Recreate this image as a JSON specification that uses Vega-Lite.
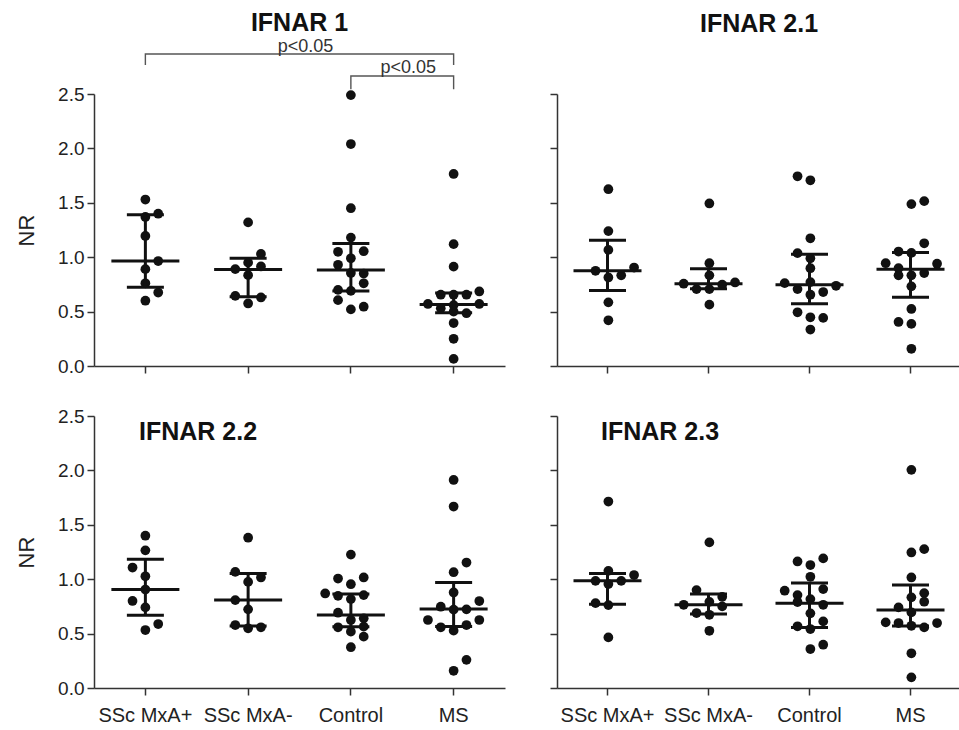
{
  "$schema": "https://vega.github.io/schema/vega-lite/v6.json",
  "padding": {"left": 15, "top": 10, "right": 0, "bottom": 0},
  "background": "white",
  "datasets": {
    "pts": [
      {"p":"IFNAR 1","g":"SSc MxA+","v":1.53,"s":0},{"p":"IFNAR 1","g":"SSc MxA+","v":1.37,"s":0},{"p":"IFNAR 1","g":"SSc MxA+","v":1.40,"s":1},{"p":"IFNAR 1","g":"SSc MxA+","v":1.195,"s":0},{"p":"IFNAR 1","g":"SSc MxA+","v":0.965,"s":1},{"p":"IFNAR 1","g":"SSc MxA+","v":0.89,"s":0},{"p":"IFNAR 1","g":"SSc MxA+","v":0.76,"s":0},{"p":"IFNAR 1","g":"SSc MxA+","v":0.675,"s":1},{"p":"IFNAR 1","g":"SSc MxA+","v":0.60,"s":0},
      {"p":"IFNAR 1","g":"SSc MxA-","v":1.32,"s":0},{"p":"IFNAR 1","g":"SSc MxA-","v":1.03,"s":1},{"p":"IFNAR 1","g":"SSc MxA-","v":0.95,"s":0},{"p":"IFNAR 1","g":"SSc MxA-","v":0.89,"s":-1},{"p":"IFNAR 1","g":"SSc MxA-","v":0.915,"s":1},{"p":"IFNAR 1","g":"SSc MxA-","v":0.835,"s":0},{"p":"IFNAR 1","g":"SSc MxA-","v":0.645,"s":-1},{"p":"IFNAR 1","g":"SSc MxA-","v":0.63,"s":1},{"p":"IFNAR 1","g":"SSc MxA-","v":0.575,"s":0},
      {"p":"IFNAR 1","g":"Control","v":2.49,"s":0},{"p":"IFNAR 1","g":"Control","v":2.04,"s":0},{"p":"IFNAR 1","g":"Control","v":1.45,"s":0},{"p":"IFNAR 1","g":"Control","v":1.18,"s":0},{"p":"IFNAR 1","g":"Control","v":1.05,"s":-1},{"p":"IFNAR 1","g":"Control","v":1.055,"s":1},{"p":"IFNAR 1","g":"Control","v":0.99,"s":0},{"p":"IFNAR 1","g":"Control","v":0.93,"s":-1},{"p":"IFNAR 1","g":"Control","v":0.855,"s":0},{"p":"IFNAR 1","g":"Control","v":0.85,"s":1},{"p":"IFNAR 1","g":"Control","v":0.76,"s":1},{"p":"IFNAR 1","g":"Control","v":0.70,"s":-1},{"p":"IFNAR 1","g":"Control","v":0.69,"s":0},{"p":"IFNAR 1","g":"Control","v":0.605,"s":-1},{"p":"IFNAR 1","g":"Control","v":0.52,"s":0},{"p":"IFNAR 1","g":"Control","v":0.545,"s":1},
      {"p":"IFNAR 1","g":"MS","v":1.765,"s":0},{"p":"IFNAR 1","g":"MS","v":1.12,"s":0},{"p":"IFNAR 1","g":"MS","v":0.913,"s":0},{"p":"IFNAR 1","g":"MS","v":0.685,"s":2},{"p":"IFNAR 1","g":"MS","v":0.655,"s":-1},{"p":"IFNAR 1","g":"MS","v":0.655,"s":0},{"p":"IFNAR 1","g":"MS","v":0.655,"s":1},{"p":"IFNAR 1","g":"MS","v":0.57,"s":-2},{"p":"IFNAR 1","g":"MS","v":0.57,"s":2},{"p":"IFNAR 1","g":"MS","v":0.56,"s":0},{"p":"IFNAR 1","g":"MS","v":0.53,"s":-1},{"p":"IFNAR 1","g":"MS","v":0.50,"s":0},{"p":"IFNAR 1","g":"MS","v":0.485,"s":1},{"p":"IFNAR 1","g":"MS","v":0.395,"s":0},{"p":"IFNAR 1","g":"MS","v":0.25,"s":0},{"p":"IFNAR 1","g":"MS","v":0.065,"s":0},

      {"p":"IFNAR 2.1","g":"SSc MxA+","v":1.625,"s":0},{"p":"IFNAR 2.1","g":"SSc MxA+","v":1.24,"s":0},{"p":"IFNAR 2.1","g":"SSc MxA+","v":1.067,"s":0},{"p":"IFNAR 2.1","g":"SSc MxA+","v":0.875,"s":-1},{"p":"IFNAR 2.1","g":"SSc MxA+","v":0.905,"s":2},{"p":"IFNAR 2.1","g":"SSc MxA+","v":0.833,"s":1},{"p":"IFNAR 2.1","g":"SSc MxA+","v":0.814,"s":0},{"p":"IFNAR 2.1","g":"SSc MxA+","v":0.585,"s":0},{"p":"IFNAR 2.1","g":"SSc MxA+","v":0.42,"s":0},
      {"p":"IFNAR 2.1","g":"SSc MxA-","v":1.494,"s":0},{"p":"IFNAR 2.1","g":"SSc MxA-","v":0.945,"s":0},{"p":"IFNAR 2.1","g":"SSc MxA-","v":0.833,"s":0},{"p":"IFNAR 2.1","g":"SSc MxA-","v":0.756,"s":-2},{"p":"IFNAR 2.1","g":"SSc MxA-","v":0.707,"s":-1},{"p":"IFNAR 2.1","g":"SSc MxA-","v":0.707,"s":0},{"p":"IFNAR 2.1","g":"SSc MxA-","v":0.747,"s":1},{"p":"IFNAR 2.1","g":"SSc MxA-","v":0.768,"s":2},{"p":"IFNAR 2.1","g":"SSc MxA-","v":0.564,"s":0},
      {"p":"IFNAR 2.1","g":"Control","v":1.744,"s":-1},{"p":"IFNAR 2.1","g":"Control","v":1.707,"s":0},{"p":"IFNAR 2.1","g":"Control","v":1.174,"s":0},{"p":"IFNAR 2.1","g":"Control","v":1.037,"s":-1},{"p":"IFNAR 2.1","g":"Control","v":0.99,"s":0},{"p":"IFNAR 2.1","g":"Control","v":0.899,"s":0},{"p":"IFNAR 2.1","g":"Control","v":0.762,"s":-2},{"p":"IFNAR 2.1","g":"Control","v":0.771,"s":0},{"p":"IFNAR 2.1","g":"Control","v":0.707,"s":-1},{"p":"IFNAR 2.1","g":"Control","v":0.737,"s":2},{"p":"IFNAR 2.1","g":"Control","v":0.655,"s":0},{"p":"IFNAR 2.1","g":"Control","v":0.68,"s":1},{"p":"IFNAR 2.1","g":"Control","v":0.494,"s":-1},{"p":"IFNAR 2.1","g":"Control","v":0.448,"s":0},{"p":"IFNAR 2.1","g":"Control","v":0.442,"s":1},{"p":"IFNAR 2.1","g":"Control","v":0.335,"s":0},
      {"p":"IFNAR 2.1","g":"MS","v":1.488,"s":0},{"p":"IFNAR 2.1","g":"MS","v":1.515,"s":1},{"p":"IFNAR 2.1","g":"MS","v":1.128,"s":1},{"p":"IFNAR 2.1","g":"MS","v":1.052,"s":-1},{"p":"IFNAR 2.1","g":"MS","v":1.04,"s":0},{"p":"IFNAR 2.1","g":"MS","v":0.945,"s":-2},{"p":"IFNAR 2.1","g":"MS","v":0.94,"s":2},{"p":"IFNAR 2.1","g":"MS","v":0.899,"s":-1},{"p":"IFNAR 2.1","g":"MS","v":0.833,"s":-1},{"p":"IFNAR 2.1","g":"MS","v":0.833,"s":0},{"p":"IFNAR 2.1","g":"MS","v":0.854,"s":1},{"p":"IFNAR 2.1","g":"MS","v":0.732,"s":0},{"p":"IFNAR 2.1","g":"MS","v":0.524,"s":0},{"p":"IFNAR 2.1","g":"MS","v":0.405,"s":-1},{"p":"IFNAR 2.1","g":"MS","v":0.387,"s":0},{"p":"IFNAR 2.1","g":"MS","v":0.158,"s":0},

      {"p":"IFNAR 2.2","g":"SSc MxA+","v":1.40,"s":0},{"p":"IFNAR 2.2","g":"SSc MxA+","v":1.265,"s":0},{"p":"IFNAR 2.2","g":"SSc MxA+","v":1.107,"s":-1},{"p":"IFNAR 2.2","g":"SSc MxA+","v":1.027,"s":0},{"p":"IFNAR 2.2","g":"SSc MxA+","v":0.905,"s":0},{"p":"IFNAR 2.2","g":"SSc MxA+","v":0.80,"s":-1},{"p":"IFNAR 2.2","g":"SSc MxA+","v":0.741,"s":0},{"p":"IFNAR 2.2","g":"SSc MxA+","v":0.588,"s":1},{"p":"IFNAR 2.2","g":"SSc MxA+","v":0.533,"s":0},
      {"p":"IFNAR 2.2","g":"SSc MxA-","v":1.381,"s":0},{"p":"IFNAR 2.2","g":"SSc MxA-","v":1.067,"s":-1},{"p":"IFNAR 2.2","g":"SSc MxA-","v":1.016,"s":1},{"p":"IFNAR 2.2","g":"SSc MxA-","v":0.975,"s":0},{"p":"IFNAR 2.2","g":"SSc MxA-","v":0.808,"s":-1},{"p":"IFNAR 2.2","g":"SSc MxA-","v":0.723,"s":0},{"p":"IFNAR 2.2","g":"SSc MxA-","v":0.579,"s":-1},{"p":"IFNAR 2.2","g":"SSc MxA-","v":0.549,"s":0},{"p":"IFNAR 2.2","g":"SSc MxA-","v":0.558,"s":1},
      {"p":"IFNAR 2.2","g":"Control","v":1.226,"s":0},{"p":"IFNAR 2.2","g":"Control","v":1.006,"s":-1},{"p":"IFNAR 2.2","g":"Control","v":1.016,"s":1},{"p":"IFNAR 2.2","g":"Control","v":0.954,"s":0},{"p":"IFNAR 2.2","g":"Control","v":0.869,"s":-2},{"p":"IFNAR 2.2","g":"Control","v":0.847,"s":-1},{"p":"IFNAR 2.2","g":"Control","v":0.854,"s":1},{"p":"IFNAR 2.2","g":"Control","v":0.817,"s":0},{"p":"IFNAR 2.2","g":"Control","v":0.692,"s":-1},{"p":"IFNAR 2.2","g":"Control","v":0.625,"s":0},{"p":"IFNAR 2.2","g":"Control","v":0.64,"s":1},{"p":"IFNAR 2.2","g":"Control","v":0.558,"s":-1},{"p":"IFNAR 2.2","g":"Control","v":0.518,"s":0},{"p":"IFNAR 2.2","g":"Control","v":0.564,"s":1},{"p":"IFNAR 2.2","g":"Control","v":0.472,"s":1},{"p":"IFNAR 2.2","g":"Control","v":0.375,"s":0},
      {"p":"IFNAR 2.2","g":"MS","v":1.912,"s":0},{"p":"IFNAR 2.2","g":"MS","v":1.668,"s":0},{"p":"IFNAR 2.2","g":"MS","v":1.153,"s":1},{"p":"IFNAR 2.2","g":"MS","v":1.064,"s":0},{"p":"IFNAR 2.2","g":"MS","v":0.878,"s":0},{"p":"IFNAR 2.2","g":"MS","v":0.799,"s":2},{"p":"IFNAR 2.2","g":"MS","v":0.747,"s":-1},{"p":"IFNAR 2.2","g":"MS","v":0.72,"s":0},{"p":"IFNAR 2.2","g":"MS","v":0.723,"s":1},{"p":"IFNAR 2.2","g":"MS","v":0.625,"s":-2},{"p":"IFNAR 2.2","g":"MS","v":0.625,"s":2},{"p":"IFNAR 2.2","g":"MS","v":0.558,"s":-1},{"p":"IFNAR 2.2","g":"MS","v":0.527,"s":0},{"p":"IFNAR 2.2","g":"MS","v":0.579,"s":1},{"p":"IFNAR 2.2","g":"MS","v":0.259,"s":1},{"p":"IFNAR 2.2","g":"MS","v":0.158,"s":0},

      {"p":"IFNAR 2.3","g":"SSc MxA+","v":1.714,"s":0},{"p":"IFNAR 2.3","g":"SSc MxA+","v":1.077,"s":0},{"p":"IFNAR 2.3","g":"SSc MxA+","v":0.985,"s":-1},{"p":"IFNAR 2.3","g":"SSc MxA+","v":0.955,"s":0},{"p":"IFNAR 2.3","g":"SSc MxA+","v":0.985,"s":1},{"p":"IFNAR 2.3","g":"SSc MxA+","v":1.038,"s":2},{"p":"IFNAR 2.3","g":"SSc MxA+","v":0.78,"s":-1},{"p":"IFNAR 2.3","g":"SSc MxA+","v":0.762,"s":0},{"p":"IFNAR 2.3","g":"SSc MxA+","v":0.465,"s":0},
      {"p":"IFNAR 2.3","g":"SSc MxA-","v":1.338,"s":0},{"p":"IFNAR 2.3","g":"SSc MxA-","v":0.90,"s":-1},{"p":"IFNAR 2.3","g":"SSc MxA-","v":0.838,"s":1},{"p":"IFNAR 2.3","g":"SSc MxA-","v":0.792,"s":0},{"p":"IFNAR 2.3","g":"SSc MxA-","v":0.765,"s":-2},{"p":"IFNAR 2.3","g":"SSc MxA-","v":0.75,"s":1},{"p":"IFNAR 2.3","g":"SSc MxA-","v":0.689,"s":-1},{"p":"IFNAR 2.3","g":"SSc MxA-","v":0.673,"s":0},{"p":"IFNAR 2.3","g":"SSc MxA-","v":0.526,"s":0},
      {"p":"IFNAR 2.3","g":"Control","v":1.163,"s":-1},{"p":"IFNAR 2.3","g":"Control","v":1.13,"s":0},{"p":"IFNAR 2.3","g":"Control","v":1.191,"s":1},{"p":"IFNAR 2.3","g":"Control","v":1.022,"s":0},{"p":"IFNAR 2.3","g":"Control","v":0.894,"s":-2},{"p":"IFNAR 2.3","g":"Control","v":0.909,"s":1},{"p":"IFNAR 2.3","g":"Control","v":0.854,"s":-1},{"p":"IFNAR 2.3","g":"Control","v":0.817,"s":0},{"p":"IFNAR 2.3","g":"Control","v":0.79,"s":-1},{"p":"IFNAR 2.3","g":"Control","v":0.765,"s":1},{"p":"IFNAR 2.3","g":"Control","v":0.686,"s":0},{"p":"IFNAR 2.3","g":"Control","v":0.612,"s":1},{"p":"IFNAR 2.3","g":"Control","v":0.567,"s":-1},{"p":"IFNAR 2.3","g":"Control","v":0.542,"s":0},{"p":"IFNAR 2.3","g":"Control","v":0.358,"s":0},{"p":"IFNAR 2.3","g":"Control","v":0.398,"s":1},
      {"p":"IFNAR 2.3","g":"MS","v":2.005,"s":0},{"p":"IFNAR 2.3","g":"MS","v":1.246,"s":0},{"p":"IFNAR 2.3","g":"MS","v":1.276,"s":1},{"p":"IFNAR 2.3","g":"MS","v":1.016,"s":0},{"p":"IFNAR 2.3","g":"MS","v":0.872,"s":1},{"p":"IFNAR 2.3","g":"MS","v":0.833,"s":0},{"p":"IFNAR 2.3","g":"MS","v":0.793,"s":1},{"p":"IFNAR 2.3","g":"MS","v":0.741,"s":-1},{"p":"IFNAR 2.3","g":"MS","v":0.695,"s":0},{"p":"IFNAR 2.3","g":"MS","v":0.603,"s":-2},{"p":"IFNAR 2.3","g":"MS","v":0.597,"s":-1},{"p":"IFNAR 2.3","g":"MS","v":0.572,"s":0},{"p":"IFNAR 2.3","g":"MS","v":0.557,"s":1},{"p":"IFNAR 2.3","g":"MS","v":0.597,"s":2},{"p":"IFNAR 2.3","g":"MS","v":0.319,"s":0},{"p":"IFNAR 2.3","g":"MS","v":0.098,"s":0}
    ],
    "st": [
      {"p":"IFNAR 1","g":"SSc MxA+","med":0.965,"q1":0.723,"q3":1.39},
      {"p":"IFNAR 1","g":"SSc MxA-","med":0.888,"q1":0.637,"q3":0.99},
      {"p":"IFNAR 1","g":"Control","med":0.882,"q1":0.69,"q3":1.127},
      {"p":"IFNAR 1","g":"MS","med":0.565,"q1":0.49,"q3":0.672},
      {"p":"IFNAR 2.1","g":"SSc MxA+","med":0.875,"q1":0.695,"q3":1.155},
      {"p":"IFNAR 2.1","g":"SSc MxA-","med":0.756,"q1":0.71,"q3":0.893},
      {"p":"IFNAR 2.1","g":"Control","med":0.747,"q1":0.573,"q3":1.027},
      {"p":"IFNAR 2.1","g":"MS","med":0.89,"q1":0.631,"q3":1.043},
      {"p":"IFNAR 2.2","g":"SSc MxA+","med":0.905,"q1":0.668,"q3":1.183},
      {"p":"IFNAR 2.2","g":"SSc MxA-","med":0.808,"q1":0.57,"q3":1.052},
      {"p":"IFNAR 2.2","g":"Control","med":0.671,"q1":0.564,"q3":0.863},
      {"p":"IFNAR 2.2","g":"MS","med":0.725,"q1":0.565,"q3":0.97},
      {"p":"IFNAR 2.3","g":"SSc MxA+","med":0.985,"q1":0.77,"q3":1.053},
      {"p":"IFNAR 2.3","g":"SSc MxA-","med":0.765,"q1":0.68,"q3":0.863},
      {"p":"IFNAR 2.3","g":"Control","med":0.78,"q1":0.557,"q3":0.964},
      {"p":"IFNAR 2.3","g":"MS","med":0.716,"q1":0.57,"q3":0.946}
    ],
    "brk": [
      {"b":1,"g":"SSc MxA+","v":2.767,"o":1},{"b":1,"g":"SSc MxA+","v":2.868,"o":2},{"b":1,"g":"MS","v":2.868,"o":3},{"b":1,"g":"MS","v":2.767,"o":4},
      {"b":2,"g":"Control","v":2.543,"o":1},{"b":2,"g":"Control","v":2.665,"o":2},{"b":2,"g":"MS","v":2.665,"o":3},{"b":2,"g":"MS","v":2.543,"o":4}
    ],
    "brt": [
      {"t":"p<0.05","g":"SSc MxA-","v":2.89},
      {"t":"p<0.05","g":"Control","v":2.696}
    ]
  },
  "columns": 2,
  "bounds": "flush",
  "spacing": {"row": 50, "column": 52},
  "concat": [
    {
      "width": 411, "height": 272,
      "title": {"text": "IFNAR 1", "anchor": "middle", "offset": 2},
      "encoding": {"x": {"field": "g", "type": "nominal", "scale": {"domain": ["SSc MxA+","SSc MxA-","Control","MS"], "paddingInner": 0, "paddingOuter": 0}, "axis": {"labels": false, "title": null}}},
      "layer": [
        {"data": {"name": "pts"}, "transform": [{"filter": "datum.p === 'IFNAR 1'"}], "mark": {"type": "circle", "size": 95, "color": "#111", "opacity": 1},
         "encoding": {"xOffset": {"field": "s", "type": "nominal", "scale": {"domain": [-4,-3,-2,-1,0,1,2,3,4], "paddingInner": 0, "paddingOuter": 0}},
                      "y": {"field": "v", "type": "quantitative", "title": "NR", "scale": {"domain": [0, 2.5], "nice": false, "zero": false}, "axis": {"values": [0,0.5,1,1.5,2,2.5], "format": ".1f"}}}},
        {"data": {"name": "st"}, "transform": [{"filter": "datum.p === 'IFNAR 1'"}], "mark": {"type": "tick", "orient": "horizontal", "size": 68, "thickness": 3, "color": "#111", "opacity": 1},
         "encoding": {"y": {"field": "med", "type": "quantitative", "title": "NR", "scale": {"domain": [0, 2.5], "nice": false, "zero": false}}}},
        {"data": {"name": "st"}, "transform": [{"filter": "datum.p === 'IFNAR 1'"}], "mark": {"type": "tick", "orient": "horizontal", "size": 37, "thickness": 3, "color": "#111", "opacity": 1},
         "encoding": {"y": {"field": "q1", "type": "quantitative", "title": "NR", "scale": {"domain": [0, 2.5], "nice": false, "zero": false}}}},
        {"data": {"name": "st"}, "transform": [{"filter": "datum.p === 'IFNAR 1'"}], "mark": {"type": "tick", "orient": "horizontal", "size": 37, "thickness": 3, "color": "#111", "opacity": 1},
         "encoding": {"y": {"field": "q3", "type": "quantitative", "title": "NR", "scale": {"domain": [0, 2.5], "nice": false, "zero": false}}}},
        {"data": {"name": "st"}, "transform": [{"filter": "datum.p === 'IFNAR 1'"}], "mark": {"type": "rule", "strokeWidth": 3, "color": "#111"},
         "encoding": {"y": {"field": "q1", "type": "quantitative", "title": "NR", "scale": {"domain": [0, 2.5], "nice": false, "zero": false}}, "y2": {"field": "q3"}}},
        {"data": {"name": "brk"}, "mark": {"type": "line", "color": "#555", "strokeWidth": 1.4, "interpolate": "linear"},
         "encoding": {"y": {"field": "v", "type": "quantitative", "title": "NR", "scale": {"domain": [0, 2.5], "nice": false, "zero": false}}, "detail": {"field": "b"}, "order": {"field": "o"}}},
        {"data": {"name": "brt"}, "mark": {"type": "text", "fontSize": 18, "color": "#333", "baseline": "alphabetic", "align": "center", "dx": 6, "font": "Liberation Sans"},
         "encoding": {"x": {"field": "g", "type": "nominal", "bandPosition": 1}, "y": {"field": "v", "type": "quantitative", "title": "NR", "scale": {"domain": [0, 2.5], "nice": false, "zero": false}}, "text": {"field": "t"}}}
      ]
    },
    {
      "width": 404, "height": 272,
      "title": {"text": "IFNAR 2.1", "anchor": "middle", "offset": 56},
      "encoding": {"x": {"field": "g", "type": "nominal", "scale": {"domain": ["SSc MxA+","SSc MxA-","Control","MS"], "paddingInner": 0, "paddingOuter": 0}, "axis": {"labels": false, "title": null}}},
      "layer": [
        {"data": {"name": "pts"}, "transform": [{"filter": "datum.p === 'IFNAR 2.1'"}], "mark": {"type": "circle", "size": 95, "color": "#111", "opacity": 1},
         "encoding": {"xOffset": {"field": "s", "type": "nominal", "scale": {"domain": [-4,-3,-2,-1,0,1,2,3,4], "paddingInner": 0, "paddingOuter": 0}},
                      "y": {"field": "v", "type": "quantitative", "title": null, "scale": {"domain": [0, 2.5], "nice": false, "zero": false}, "axis": {"values": [0,0.5,1,1.5,2,2.5], "labels": false}}}},
        {"data": {"name": "st"}, "transform": [{"filter": "datum.p === 'IFNAR 2.1'"}], "mark": {"type": "tick", "orient": "horizontal", "size": 68, "thickness": 3, "color": "#111", "opacity": 1},
         "encoding": {"y": {"field": "med", "type": "quantitative", "title": null, "scale": {"domain": [0, 2.5], "nice": false, "zero": false}}}},
        {"data": {"name": "st"}, "transform": [{"filter": "datum.p === 'IFNAR 2.1'"}], "mark": {"type": "tick", "orient": "horizontal", "size": 37, "thickness": 3, "color": "#111", "opacity": 1},
         "encoding": {"y": {"field": "q1", "type": "quantitative", "title": null, "scale": {"domain": [0, 2.5], "nice": false, "zero": false}}}},
        {"data": {"name": "st"}, "transform": [{"filter": "datum.p === 'IFNAR 2.1'"}], "mark": {"type": "tick", "orient": "horizontal", "size": 37, "thickness": 3, "color": "#111", "opacity": 1},
         "encoding": {"y": {"field": "q3", "type": "quantitative", "title": null, "scale": {"domain": [0, 2.5], "nice": false, "zero": false}}}},
        {"data": {"name": "st"}, "transform": [{"filter": "datum.p === 'IFNAR 2.1'"}], "mark": {"type": "rule", "strokeWidth": 3, "color": "#111"},
         "encoding": {"y": {"field": "q1", "type": "quantitative", "title": null, "scale": {"domain": [0, 2.5], "nice": false, "zero": false}}, "y2": {"field": "q3"}}}
      ]
    },
    {
      "width": 411, "height": 272,
      "title": {"text": "IFNAR 2.2", "anchor": "start", "frame": "group", "offset": 0, "dx": 45, "dy": 58, "baseline": "alphabetic"},
      "encoding": {"x": {"field": "g", "type": "nominal", "scale": {"domain": ["SSc MxA+","SSc MxA-","Control","MS"], "paddingInner": 0, "paddingOuter": 0}, "axis": {"labels": true, "title": null}}},
      "layer": [
        {"data": {"name": "pts"}, "transform": [{"filter": "datum.p === 'IFNAR 2.2'"}], "mark": {"type": "circle", "size": 95, "color": "#111", "opacity": 1},
         "encoding": {"xOffset": {"field": "s", "type": "nominal", "scale": {"domain": [-4,-3,-2,-1,0,1,2,3,4], "paddingInner": 0, "paddingOuter": 0}},
                      "y": {"field": "v", "type": "quantitative", "title": "NR", "scale": {"domain": [0, 2.5], "nice": false, "zero": false}, "axis": {"values": [0,0.5,1,1.5,2,2.5], "format": ".1f"}}}},
        {"data": {"name": "st"}, "transform": [{"filter": "datum.p === 'IFNAR 2.2'"}], "mark": {"type": "tick", "orient": "horizontal", "size": 68, "thickness": 3, "color": "#111", "opacity": 1},
         "encoding": {"y": {"field": "med", "type": "quantitative", "title": "NR", "scale": {"domain": [0, 2.5], "nice": false, "zero": false}}}},
        {"data": {"name": "st"}, "transform": [{"filter": "datum.p === 'IFNAR 2.2'"}], "mark": {"type": "tick", "orient": "horizontal", "size": 37, "thickness": 3, "color": "#111", "opacity": 1},
         "encoding": {"y": {"field": "q1", "type": "quantitative", "title": "NR", "scale": {"domain": [0, 2.5], "nice": false, "zero": false}}}},
        {"data": {"name": "st"}, "transform": [{"filter": "datum.p === 'IFNAR 2.2'"}], "mark": {"type": "tick", "orient": "horizontal", "size": 37, "thickness": 3, "color": "#111", "opacity": 1},
         "encoding": {"y": {"field": "q3", "type": "quantitative", "title": "NR", "scale": {"domain": [0, 2.5], "nice": false, "zero": false}}}},
        {"data": {"name": "st"}, "transform": [{"filter": "datum.p === 'IFNAR 2.2'"}], "mark": {"type": "rule", "strokeWidth": 3, "color": "#111"},
         "encoding": {"y": {"field": "q1", "type": "quantitative", "title": "NR", "scale": {"domain": [0, 2.5], "nice": false, "zero": false}}, "y2": {"field": "q3"}}}
      ]
    },
    {
      "width": 404, "height": 272,
      "title": {"text": "IFNAR 2.3", "anchor": "start", "frame": "group", "offset": 0, "dx": 44, "dy": 50, "baseline": "alphabetic"},
      "encoding": {"x": {"field": "g", "type": "nominal", "scale": {"domain": ["SSc MxA+","SSc MxA-","Control","MS"], "paddingInner": 0, "paddingOuter": 0}, "axis": {"labels": true, "title": null}}},
      "layer": [
        {"data": {"name": "pts"}, "transform": [{"filter": "datum.p === 'IFNAR 2.3'"}], "mark": {"type": "circle", "size": 95, "color": "#111", "opacity": 1},
         "encoding": {"xOffset": {"field": "s", "type": "nominal", "scale": {"domain": [-4,-3,-2,-1,0,1,2,3,4], "paddingInner": 0, "paddingOuter": 0}},
                      "y": {"field": "v", "type": "quantitative", "title": null, "scale": {"domain": [0, 2.5], "nice": false, "zero": false}, "axis": {"values": [0,0.5,1,1.5,2,2.5], "labels": false}}}},
        {"data": {"name": "st"}, "transform": [{"filter": "datum.p === 'IFNAR 2.3'"}], "mark": {"type": "tick", "orient": "horizontal", "size": 68, "thickness": 3, "color": "#111", "opacity": 1},
         "encoding": {"y": {"field": "med", "type": "quantitative", "title": null, "scale": {"domain": [0, 2.5], "nice": false, "zero": false}}}},
        {"data": {"name": "st"}, "transform": [{"filter": "datum.p === 'IFNAR 2.3'"}], "mark": {"type": "tick", "orient": "horizontal", "size": 37, "thickness": 3, "color": "#111", "opacity": 1},
         "encoding": {"y": {"field": "q1", "type": "quantitative", "title": null, "scale": {"domain": [0, 2.5], "nice": false, "zero": false}}}},
        {"data": {"name": "st"}, "transform": [{"filter": "datum.p === 'IFNAR 2.3'"}], "mark": {"type": "tick", "orient": "horizontal", "size": 37, "thickness": 3, "color": "#111", "opacity": 1},
         "encoding": {"y": {"field": "q3", "type": "quantitative", "title": null, "scale": {"domain": [0, 2.5], "nice": false, "zero": false}}}},
        {"data": {"name": "st"}, "transform": [{"filter": "datum.p === 'IFNAR 2.3'"}], "mark": {"type": "rule", "strokeWidth": 3, "color": "#111"},
         "encoding": {"y": {"field": "q1", "type": "quantitative", "title": null, "scale": {"domain": [0, 2.5], "nice": false, "zero": false}}, "y2": {"field": "q3"}}}
      ]
    }
  ],
  "config": {
    "view": {"stroke": null},
    "font": "Liberation Sans",
    "axis": {"grid": false, "domainColor": "#333", "tickColor": "#333", "domainWidth": 1.5, "tickWidth": 1.5, "tickSize": 7, "labelColor": "#222", "labelFont": "Liberation Sans", "titleFont": "Liberation Sans"},
    "axisY": {"labelFontSize": 19, "labelPadding": 3, "titleFontSize": 22, "titleFontWeight": "normal", "titleColor": "#222", "titlePadding": 19},
    "axisX": {"labelFontSize": 20, "labelAngle": 0, "labelPadding": 10, "labelOverlap": false},
    "title": {"fontSize": 25, "font": "Liberation Sans", "fontWeight": "bold", "color": "#111"}
  }
}
